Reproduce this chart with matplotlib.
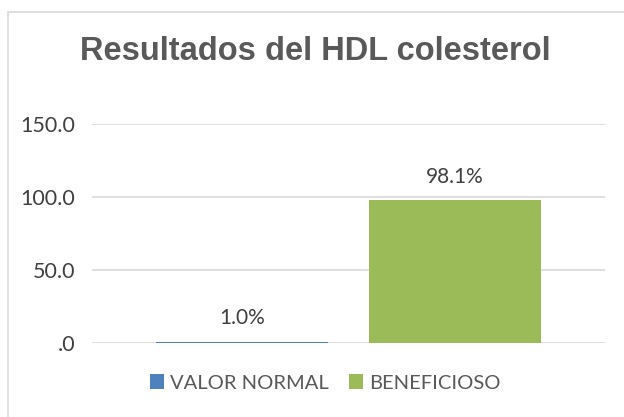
import matplotlib
matplotlib.use('Agg')
import matplotlib.pyplot as plt
from matplotlib.patches import Rectangle

plt.rcParams['font.family'] = ['Lato', 'DejaVu Sans']

series = ['VALOR NORMAL', 'BENEFICIOSO']
values = [1.0, 98.1]
labels = ['1.0%', '98.1%']
colors = ['#4f81bd', '#9bbb59']
yticks = [0, 50, 100, 150]
ytick_labels = ['.0', '50.0', '100.0', '150.0']

fig = plt.figure(figsize=(6.24, 4.17), dpi=100)
# chart border
fig.patches.append(Rectangle((8 / 624, -0.1), 1.0, 1.1 - 12 / 417,
                             transform=fig.transFigure, fill=False,
                             edgecolor='#d9d9d9', linewidth=1.2))

ax = fig.add_axes([92 / 624, 1 - 343 / 417, (605 - 92) / 624, (343 - 124) / 417])
for i, (v, c, s) in enumerate(zip(values, colors, series)):
    ax.bar(i, v, width=0.808, color=c, label=s, zorder=3)
    ax.text(i, v + 9, labels[i], ha='center', va='bottom', fontsize=15, color='#404040')

ax.set_xlim(-0.705, 1.705)
ax.set_ylim(0, 150)
ax.set_yticks(yticks)
ax.set_yticklabels(ytick_labels)
ax.set_xticks([])
ax.tick_params(axis='y', length=0, pad=12, labelsize=15.5, labelcolor='#404040')
ax.yaxis.grid(True, color='#d9d9d9', linewidth=1.2, zorder=0)
for sp in ax.spines.values():
    sp.set_visible(False)

fig.text(315 / 624, 1 - 52 / 417, 'Resultados del HDL colesterol', ha='center', va='center',
         fontsize=23.5, fontweight='bold', color='#595959', family=['Liberation Sans'])

fig.legend(loc='center', bbox_to_anchor=(325 / 624, 1 - 383 / 417), ncol=2, frameon=False,
           fontsize=14.5, labelcolor='#595959', handlelength=0.7, handleheight=0.7,
           handletextpad=0.3, columnspacing=1.0)

fig.savefig('out.png', dpi=100)
